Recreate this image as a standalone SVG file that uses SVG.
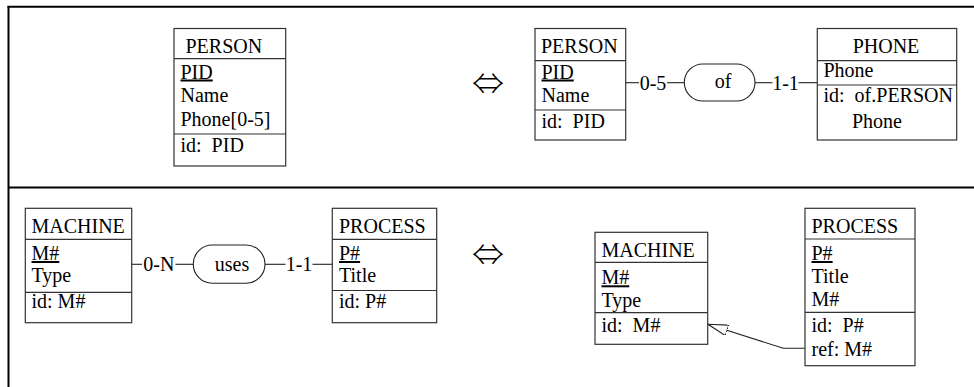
<svg xmlns="http://www.w3.org/2000/svg" width="974" height="387" viewBox="0 0 974 387">
  <style>
    text { font-family: "Liberation Serif", "Times New Roman", serif; font-size: 20px; fill: #000; white-space: pre; }
    .box { fill: #fff; stroke: #333; stroke-width: 1.2; }
    .div { stroke: #333; stroke-width: 1.2; }
    .frame { stroke: #000; stroke-width: 2; fill: none; }
    .link { stroke: #222; stroke-width: 1.1; fill: none; }
    .rel { fill: #fff; stroke: #222; stroke-width: 1.1; }
    .key { text-decoration: underline; }
    .mid { text-anchor: middle; }
    .equiv { font-family: "Noto Sans CJK JP", "DejaVu Sans", sans-serif; font-size: 30px; font-weight: 300; text-anchor: middle; }
  </style>
  <defs>
    <marker id="refHead" viewBox="0 0 20 11" refX="20" refY="5.5" markerWidth="20" markerHeight="11" markerUnits="userSpaceOnUse" orient="auto">
      <path d="M0,0 L20,5.5 L0,11 Z" fill="#fff" stroke="#222" stroke-width="1.1"/>
    </marker>
  </defs>

  <!-- frame lines -->
  <g id="frame">
    <line class="frame" x1="7.5" y1="6.7" x2="974" y2="6.7"/>
    <line class="frame" x1="8.5" y1="6" x2="8.5" y2="387"/>
    <line class="frame" x1="8.5" y1="187.5" x2="974" y2="187.5"/>
  </g>

  <!-- equivalence symbols -->
  <text class="equiv" x="488" y="94" textLength="32" lengthAdjust="spacingAndGlyphs">⇔</text>
  <text class="equiv" x="488" y="265" textLength="32" lengthAdjust="spacingAndGlyphs">⇔</text>

  <!-- connectors -->
  <g id="connectors">
    <line class="link" x1="625.7" y1="82.7" x2="639" y2="82.7"/>
    <line class="link" x1="667" y1="82.7" x2="684.3" y2="82.7"/>
    <line class="link" x1="755" y1="82.7" x2="772.5" y2="82.7"/>
    <line class="link" x1="798.5" y1="82.7" x2="817.3" y2="82.7"/>
    <text class="mid" x="653" y="89.5">0-5</text>
    <text class="mid" x="785.5" y="89.5">1-1</text>

    <line class="link" x1="131.7" y1="264.3" x2="142" y2="264.3"/>
    <line class="link" x1="175.5" y1="264.3" x2="193.3" y2="264.3"/>
    <line class="link" x1="265" y1="264.3" x2="285.5" y2="264.3"/>
    <line class="link" x1="312.5" y1="264.3" x2="332.3" y2="264.3"/>
    <text class="mid" x="158.8" y="271">0-N</text>
    <text class="mid" x="299" y="271">1-1</text>

    <polyline class="link" points="805,348.3 783.3,348.3 708,324.3" marker-end="url(#refHead)"/>
  </g>

  <!-- top-left: PERSON with multivalued Phone -->
  <g id="person-a">
    <rect class="box" x="174" y="28.5" width="111.7" height="137.5"/>
    <line class="div" x1="174" y1="58.7" x2="285.7" y2="58.7"/>
    <line class="div" x1="174" y1="134" x2="285.7" y2="134"/>
    <text x="185.5" y="52.7">PERSON</text>
    <text class="key" x="180.5" y="78.5">PID</text>
    <text x="180.5" y="102">Name</text>
    <text x="180.5" y="126">Phone[0-5]</text>
    <text x="180.5" y="151.5">id:  PID</text>
  </g>

  <!-- top-right: PERSON -->
  <g id="person-b">
    <rect class="box" x="535" y="28.5" width="90.7" height="111.5"/>
    <line class="div" x1="535" y1="60.7" x2="625.7" y2="60.7"/>
    <line class="div" x1="535" y1="110" x2="625.7" y2="110"/>
    <text x="541" y="52.7">PERSON</text>
    <text class="key" x="541.5" y="78.5">PID</text>
    <text x="541.5" y="101.7">Name</text>
    <text x="541.5" y="128.3">id:  PID</text>
  </g>

  <!-- relationship "of" -->
  <g id="rel-of">
    <rect class="rel" x="684.3" y="64" width="70.7" height="37" rx="18.5" ry="18.5"/>
    <text class="mid" x="723" y="87.5">of</text>
  </g>

  <!-- top-right: PHONE -->
  <g id="phone">
    <rect class="box" x="817.3" y="28.5" width="139.4" height="111.5"/>
    <line class="div" x1="817.3" y1="60.7" x2="956.7" y2="60.7"/>
    <line class="div" x1="817.3" y1="85" x2="956.7" y2="85"/>
    <text class="mid" x="886" y="52.7">PHONE</text>
    <text x="823.5" y="77.3">Phone</text>
    <text x="823.5" y="101.7">id:  of.PERSON</text>
    <text x="852" y="127.7">Phone</text>
  </g>

  <!-- bottom-left: MACHINE -->
  <g id="machine-a">
    <rect class="box" x="25.3" y="208.3" width="106.4" height="114.4"/>
    <line class="div" x1="25.3" y1="239.3" x2="131.7" y2="239.3"/>
    <line class="div" x1="25.3" y1="292.3" x2="131.7" y2="292.3"/>
    <text x="31.5" y="232.7">MACHINE</text>
    <text class="key" x="31.5" y="260">M#</text>
    <text x="31.5" y="281.7">Type</text>
    <text x="31.5" y="308.3">id: M#</text>
  </g>

  <!-- relationship "uses" -->
  <g id="rel-uses">
    <rect class="rel" x="193.3" y="245" width="71.7" height="38.3" rx="19" ry="19"/>
    <text class="mid" x="232" y="270.7">uses</text>
  </g>

  <!-- bottom-left: PROCESS -->
  <g id="process-a">
    <rect class="box" x="332.3" y="208.3" width="104.4" height="114.4"/>
    <line class="div" x1="332.3" y1="239.3" x2="436.7" y2="239.3"/>
    <line class="div" x1="332.3" y1="290.5" x2="436.7" y2="290.5"/>
    <text x="339" y="232.7">PROCESS</text>
    <text class="key" x="339" y="260">P#</text>
    <text x="339" y="281.7">Title</text>
    <text x="339" y="308.3">id: P#</text>
  </g>

  <!-- bottom-right: MACHINE -->
  <g id="machine-b">
    <rect class="box" x="595" y="232.3" width="112.7" height="112"/>
    <line class="div" x1="595" y1="262.3" x2="707.7" y2="262.3"/>
    <line class="div" x1="595" y1="312.7" x2="707.7" y2="312.7"/>
    <text x="601.5" y="257.3">MACHINE</text>
    <text class="key" x="601.5" y="284.3">M#</text>
    <text x="601.5" y="306.7">Type</text>
    <text x="601.5" y="331.7">id:  M#</text>
  </g>

  <!-- bottom-right: PROCESS with foreign key -->
  <g id="process-b">
    <rect class="box" x="805" y="208.3" width="110" height="157.4"/>
    <line class="div" x1="805" y1="239" x2="915" y2="239"/>
    <line class="div" x1="805" y1="312.3" x2="915" y2="312.3"/>
    <text x="811.5" y="232.7">PROCESS</text>
    <text class="key" x="811.5" y="260">P#</text>
    <text x="811.5" y="283.3">Title</text>
    <text x="811.5" y="305.5">M#</text>
    <text x="811.5" y="331.7">id:  P#</text>
    <text x="811.5" y="356">ref: M#</text>
  </g>
</svg>
